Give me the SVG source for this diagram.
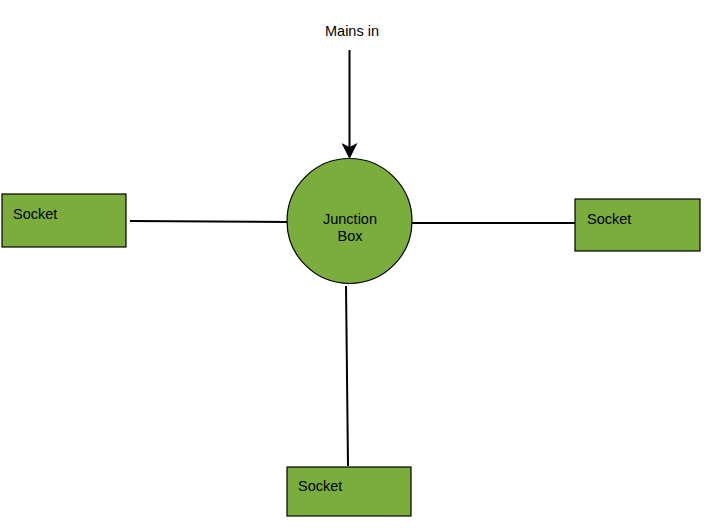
<svg xmlns="http://www.w3.org/2000/svg" width="707" height="528" viewBox="0 0 707 528">
<defs>
<style>
.shape{fill:#7aad3b;stroke:#000;stroke-width:1.2}
.lbl{font-family:"Liberation Sans",Arial,sans-serif;font-size:14.5px;fill:#000}
.conn{stroke:#000;stroke-width:2;fill:none}
</style>
<marker id="arr" markerWidth="8" markerHeight="8" refX="7" refY="4" orient="auto" markerUnits="strokeWidth">
<path d="M0,0 L8,4 L0,8 L2,4 Z" fill="#000"/>
</marker>
</defs>
<rect width="707" height="528" fill="#fff"/>
<g id="connectors">
<line class="conn" x1="349.5" y1="50" x2="349.5" y2="157" marker-end="url(#arr)"/>
<line class="conn" x1="130" y1="221" x2="287" y2="222"/>
<line class="conn" x1="412" y1="223" x2="575" y2="223"/>
<line class="conn" x1="346" y1="286" x2="348" y2="466"/>
</g>
<g id="mains">
<text class="lbl" x="352" y="36" text-anchor="middle">Mains in</text>
</g>
<g id="junction">
<circle class="shape" cx="349.5" cy="221" r="62.5"/>
<text class="lbl" x="350" y="224" text-anchor="middle">Junction</text>
<text class="lbl" x="350" y="241" text-anchor="middle">Box</text>
</g>
<g id="socket-left">
<rect class="shape" x="2" y="194" width="124" height="53"/>
<text class="lbl" x="13" y="219">Socket</text>
</g>
<g id="socket-right">
<rect class="shape" x="575" y="199" width="125" height="52"/>
<text class="lbl" x="587" y="224">Socket</text>
</g>
<g id="socket-bottom">
<rect class="shape" x="287" y="467" width="124" height="49"/>
<text class="lbl" x="298" y="491">Socket</text>
</g>
</svg>
